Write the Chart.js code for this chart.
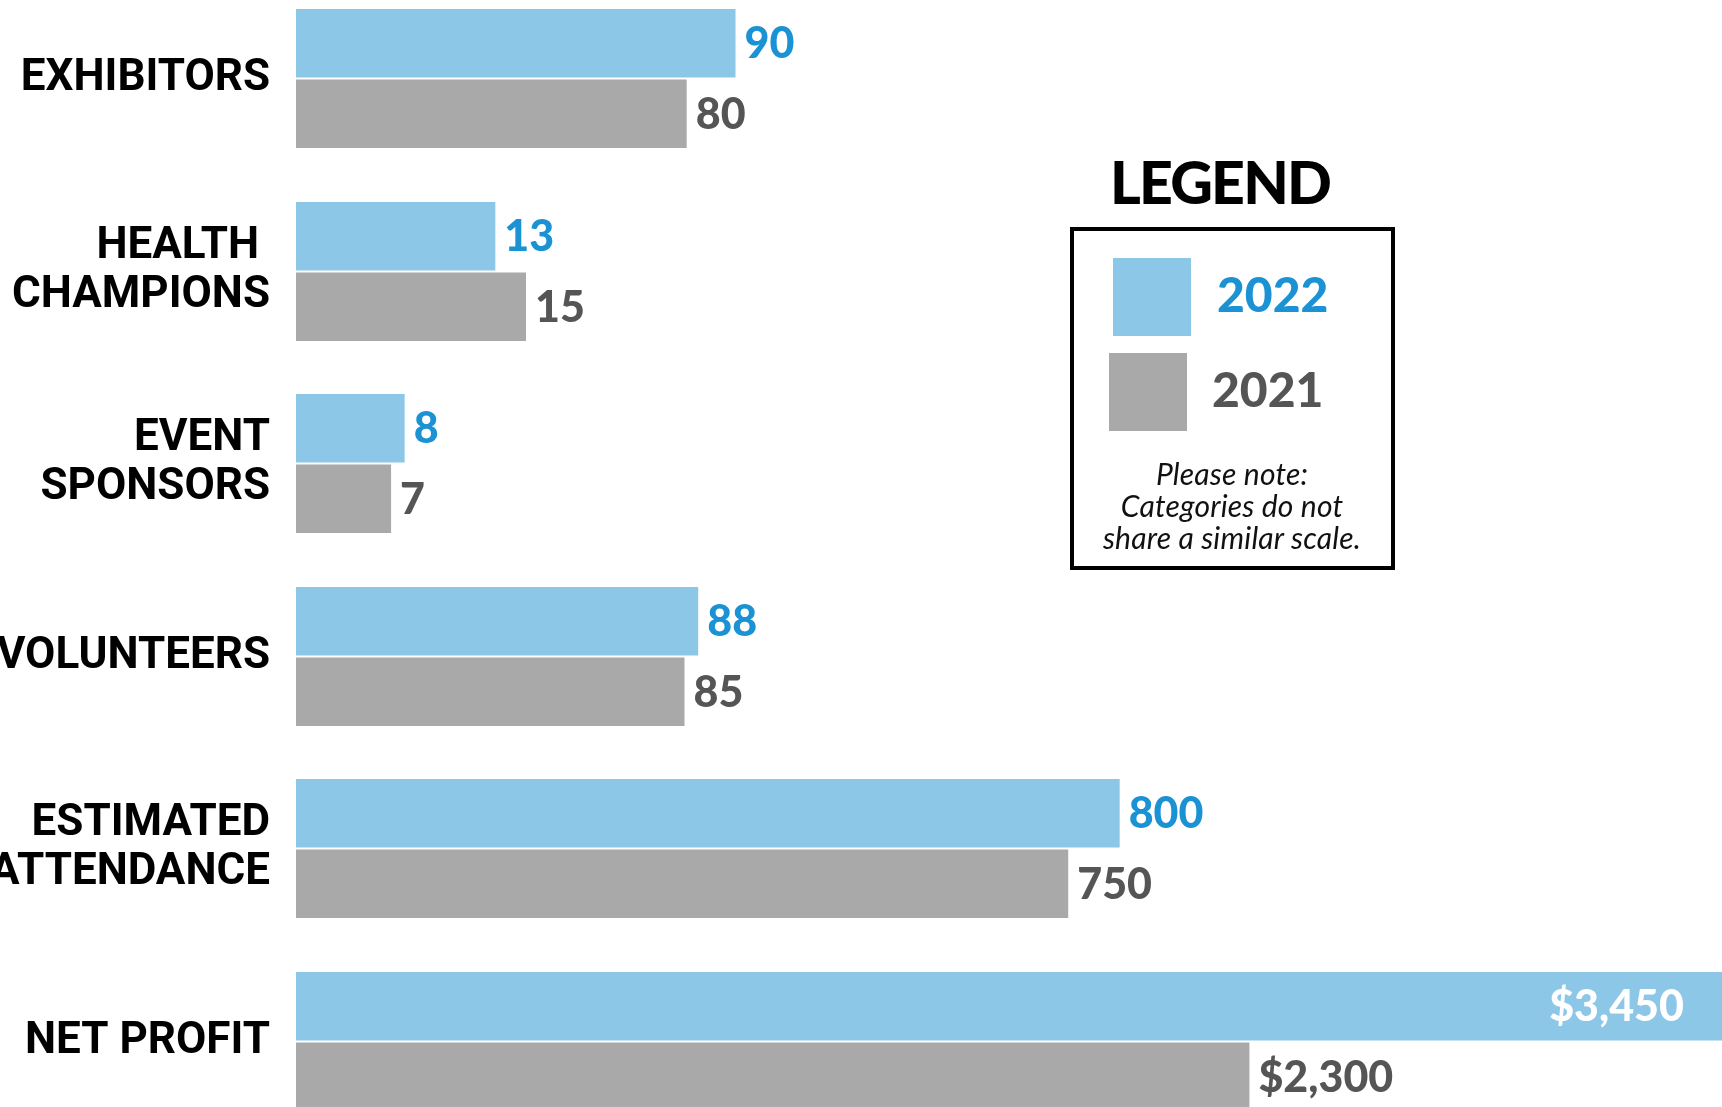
<!DOCTYPE html>
<html>
<head>
<meta charset="utf-8">
<script src="https://cdn.jsdelivr.net/npm/chart.js@4.4.0/dist/chart.umd.min.js"></script>
<style>
    html, body { margin: 0; padding: 0; background: #fff; }
    body { width: 1722px; height: 1107px; position: relative; overflow: hidden; font-family: Lato, sans-serif; }
    .row { position: absolute; left: 0; width: 1722px; }
    .abs { position: absolute; }
    #legendTitle { left: 1110px; top: 152px; font: 900 59px/59px Lato; letter-spacing: -1.8px; color: #000; }
    #legendBox { left: 1070px; top: 227px; width: 325px; height: 343px; border: 4px solid #000; box-sizing: border-box; }
    .swatch { width: 78px; height: 78px; }
    .year { font: 900 48px/48px Lato; }
    #note { left: 1062px; top: 457px; width: 340px; text-align: center; font: italic 30px/32px Lato; letter-spacing: 0.2px; color: #111; }
</style>
</head>
<body>
<div id="rows"></div>

<div id="legendTitle" class="abs">LEGEND</div>
<div id="legendBox" class="abs"></div>
<div class="abs swatch" style="left:1113px; top:258px; background:#8cc7e7;"></div>
<div class="abs year" style="left:1217px; top:270px; color:#1a92d3;">2022</div>
<div class="abs swatch" style="left:1109px; top:353px; background:#a9a9a9;"></div>
<div class="abs year" style="left:1212px; top:365px; color:#555;">2021</div>
<div id="note" class="abs">Please note:<br>Categories do not<br>share a similar scale.</div>

<script>
// Data
const categories = [
    ['EXHIBITORS'],
    ['HEALTH ', 'CHAMPIONS'],
    ['EVENT', 'SPONSORS'],
    ['VOLUNTEERS'],
    ['ESTIMATED', 'ATTENDANCE'],
    ['NET PROFIT']
];
const values2022 = [90, 13, 8, 88, 800, 3450];
const values2021 = [80, 15, 7, 85, 750, 2300];
// every category has its own scale
const scaleMax = [292, 93, 105, 312, 1385, 3440];
const isMoney = [false, false, false, false, false, true];

const BLUE = '#8cc7e7';
const GRAY = '#a9a9a9';
const BLUE_TEXT = '#1a92d3';
const GRAY_TEXT = '#555555';

const ROW_TOP = 8;
const ROW_PITCH = 192.5;
const ROW_HEIGHT = 141;
const AXIS_WIDTH = 296;

function formatValue(v, money) {
    return (money ? '$' : '') + v.toLocaleString('en-US');
}

// Draws the number at the end of each bar
const valueLabels = {
    id: 'valueLabels',
    afterDatasetsDraw(chart) {
        const ctx = chart.ctx;
        const money = chart.options.plugins.valueLabels.money;
        ctx.save();
        ctx.font = '900 43px Lato, sans-serif';
        ctx.textBaseline = 'alphabetic';
        chart.data.datasets.forEach((ds, di) => {
            const bar = chart.getDatasetMeta(di).data[0];
            const text = formatValue(ds.data[0], money);
            const w = ctx.measureText(text).width;
            let x = bar.x + 9;
            ctx.textAlign = 'left';
            ctx.fillStyle = ds.labelColor;
            if (x + w > chart.width) {
                // no room outside the bar, put it inside
                x = Math.min(bar.x, chart.chartArea.right) - 38;
                ctx.textAlign = 'right';
                ctx.fillStyle = '#fff';
            }
            ctx.fillText(text, x, bar.y + 15);
        });
        ctx.restore();
    }
};

categories.forEach((cat, i) => {
    const wrap = document.createElement('div');
    wrap.className = 'row';
    wrap.style.top = Math.round(ROW_TOP + i * ROW_PITCH) + 'px';
    wrap.style.height = ROW_HEIGHT + 'px';
    const canvas = document.createElement('canvas');
    canvas.width = 1722;
    canvas.height = ROW_HEIGHT;
    wrap.appendChild(canvas);
    document.getElementById('rows').appendChild(wrap);

    new Chart(canvas, {
        type: 'bar',
        data: {
            labels: [cat],
            datasets: [
                { label: '2022', data: [values2022[i]], backgroundColor: BLUE, labelColor: BLUE_TEXT },
                { label: '2021', data: [values2021[i]], backgroundColor: GRAY, labelColor: GRAY_TEXT }
            ]
        },
        options: {
            indexAxis: 'y',
            responsive: false,
            animation: false,
            categoryPercentage: 1,
            barPercentage: 0.97,
            layout: { padding: 0 },
            plugins: {
                legend: { display: false },
                tooltip: { enabled: false },
                valueLabels: { money: isMoney[i] }
            },
            scales: {
                x: { display: false, min: 0, max: scaleMax[i] },
                y: {
                    grid: { display: false, drawTicks: false },
                    border: { display: false },
                    ticks: {
                        color: '#000',
                        padding: 26,
                        font: {
                            family: 'Roboto, sans-serif',
                            size: 44,
                            weight: 'bold',
                            lineHeight: 1.12
                        }
                    },
                    afterFit(axis) {
                        axis.width = AXIS_WIDTH;
                        // labels may overflow the row, don't shrink the bars for them
                        axis.paddingTop = 0;
                        axis.paddingBottom = 0;
                    }
                }
            }
        },
        plugins: [valueLabels]
    });
});
</script>
</body>
</html>
